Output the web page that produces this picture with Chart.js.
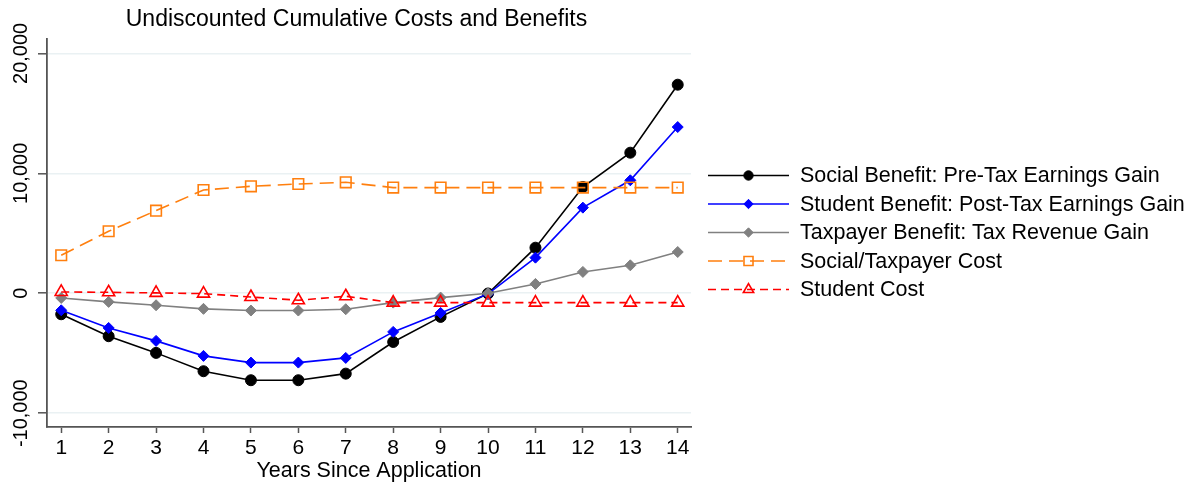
<!DOCTYPE html>
<html>
<head>
<meta charset="utf-8">
<script src="https://cdn.jsdelivr.net/npm/chart.js@4/dist/chart.umd.min.js"></script>
<style>
  html, body { margin: 0; padding: 0; background: #fff; }
  #wrap { width: 1198px; height: 485px; }
</style>
</head>
<body>
<div id="wrap"><canvas id="chart" width="1198" height="485"></canvas></div>
<script>
// dados
const years = [1, 2, 3, 4, 5, 6, 7, 8, 9, 10, 11, 12, 13, 14];
const socialBenefit = [-1750, -3580, -4970, -6500, -7250, -7250, -6700, -4060, -1970, -20, 3800, 8860, 11720, 17390];
const studentBenefit = [-1420, -2890, -3970, -5220, -5780, -5780, -5390, -3220, -1640, -50, 2970, 7140, 9420, 13860];
const taxpayerBenefit = [-390, -720, -1000, -1300, -1440, -1440, -1330, -780, -360, 0, 780, 1780, 2330, 3440];
const socialCost = [3170, 5170, 6890, 8610, 8920, 9110, 9250, 8810, 8810, 8810, 8810, 8810, 8810, 8810];
const studentCost = [110, 80, 30, -30, -310, -580, -250, -780, -780, -780, -780, -780, -780, -780];
const yTicks = [-10000, 0, 10000, 20000];

const FONT = "Arial, 'Liberation Sans', sans-serif";

function serie(label, values, cor, estilo, raio, dash, fill) {
    return {
        label: label,
        data: years.map((x, i) => ({ x: x, y: values[i] })),
        borderColor: cor,
        backgroundColor: fill ? cor : '#ffffff',
        pointBackgroundColor: fill ? cor : 'rgba(0,0,0,0)',
        pointBorderColor: cor,
        pointBorderWidth: fill ? 1 : 1.6,
        pointStyle: estilo,
        pointRadius: raio,
        borderWidth: 1.6,
        borderDash: dash,
        tension: 0,
        fill: false
    };
}

const datasets = [
    serie('Social Benefit: Pre-Tax Earnings Gain', socialBenefit, '#000000', 'circle', 5.5, [], true),
    serie('Student Benefit: Post-Tax Earnings Gain', studentBenefit, '#0000ff', 'rectRot', 5.5, [], true),
    serie('Taxpayer Benefit: Tax Revenue Gain', taxpayerBenefit, '#808080', 'rectRot', 5.5, [], true),
    serie('Social/Taxpayer Cost', socialCost, '#ff7f0e', 'rect', 7.5, [14, 7], false),
    serie('Student Cost', studentCost, '#ff0000', 'triangle', 7, [8, 5], false)
];
// séries posteriores ficam por cima
datasets.forEach((d, i) => d.order = datasets.length - i);

// rótulos do eixo y girados (como no Stata) + legenda desenhada à mão
const extrasStata = {
    id: 'extrasStata',
    afterDraw(chart) {
        const ctx = chart.ctx;
        const escalaY = chart.scales.y;
        ctx.save();
        ctx.fillStyle = '#000';
        ctx.font = '20px ' + FONT;
        ctx.textAlign = 'center';
        ctx.textBaseline = 'middle';
        yTicks.forEach(v => {
            ctx.save();
            ctx.translate(21, escalaY.getPixelForValue(v));
            ctx.rotate(-Math.PI / 2);
            ctx.fillText(v.toLocaleString('en-US'), 0, 0);
            ctx.restore();
        });

        const x0 = 708, x1 = 789, xm = 748.5, xt = 800;
        const y0 = 175.5, passo = 28.5;
        chart.data.datasets.forEach((d, i) => {
            const y = y0 + i * passo;
            ctx.strokeStyle = d.borderColor;
            ctx.lineWidth = 1.6;
            ctx.setLineDash(d.borderDash || []);
            ctx.beginPath();
            ctx.moveTo(x0, y);
            ctx.lineTo(x1, y);
            ctx.stroke();
            ctx.setLineDash([]);
            ctx.fillStyle = d.pointBackgroundColor;
            ctx.strokeStyle = d.pointBorderColor;
            ctx.lineWidth = d.pointBorderWidth;
            Chart.helpers.drawPoint(ctx, { pointStyle: d.pointStyle, radius: d.pointRadius * 0.85, rotation: 0, borderWidth: d.pointBorderWidth }, xm, y);
            ctx.fillStyle = '#000';
            ctx.font = '21.5px ' + FONT;
            ctx.textAlign = 'left';
            ctx.textBaseline = 'middle';
            ctx.fillText(d.label, xt, y + 1);
        });
        ctx.restore();
    }
};

new Chart(document.getElementById('chart').getContext('2d'), {
    type: 'line',
    data: { datasets: datasets },
    plugins: [extrasStata],
    options: {
        responsive: false,
        animation: false,
        events: [],
        layout: { padding: { left: 22, right: 507, top: 0, bottom: 0 } },
        plugins: {
            legend: { display: false },
            tooltip: { enabled: false },
            title: {
                display: true,
                text: 'Undiscounted Cumulative Costs and Benefits',
                color: '#000',
                font: { family: FONT, size: 23, weight: 'normal' },
                padding: { top: 6, bottom: 5.4 }
            }
        },
        scales: {
            x: {
                type: 'linear',
                min: 0.7,
                max: 14.28,
                afterBuildTicks: s => { s.ticks = years.map(v => ({ value: v })); },
                afterFit: s => { s.height = 58; },
                ticks: { color: '#000', font: { family: FONT, size: 21 }, padding: 3, maxRotation: 0, autoSkip: false },
                grid: { display: true, drawOnChartArea: false, drawTicks: true, tickLength: 6, tickColor: '#555', tickWidth: 1.5 },
                border: { display: true, color: '#555', width: 1.8 },
                title: {
                    display: true,
                    text: 'Years Since Application',
                    color: '#000',
                    font: { family: FONT, size: 21.5 },
                    padding: { top: 0, bottom: 1.5 }
                }
            },
            y: {
                min: -11150,
                max: 21200,
                afterBuildTicks: s => { s.ticks = yTicks.map(v => ({ value: v })); },
                afterFit: s => { s.width = 25; },
                ticks: { display: false },
                grid: { color: '#eaf1f3', lineWidth: 1.6, tickColor: '#555', tickLength: 9, tickWidth: 1.5 },
                border: { display: true, color: '#555', width: 1.8 }
            }
        }
    }
});
</script>
</body>
</html>
